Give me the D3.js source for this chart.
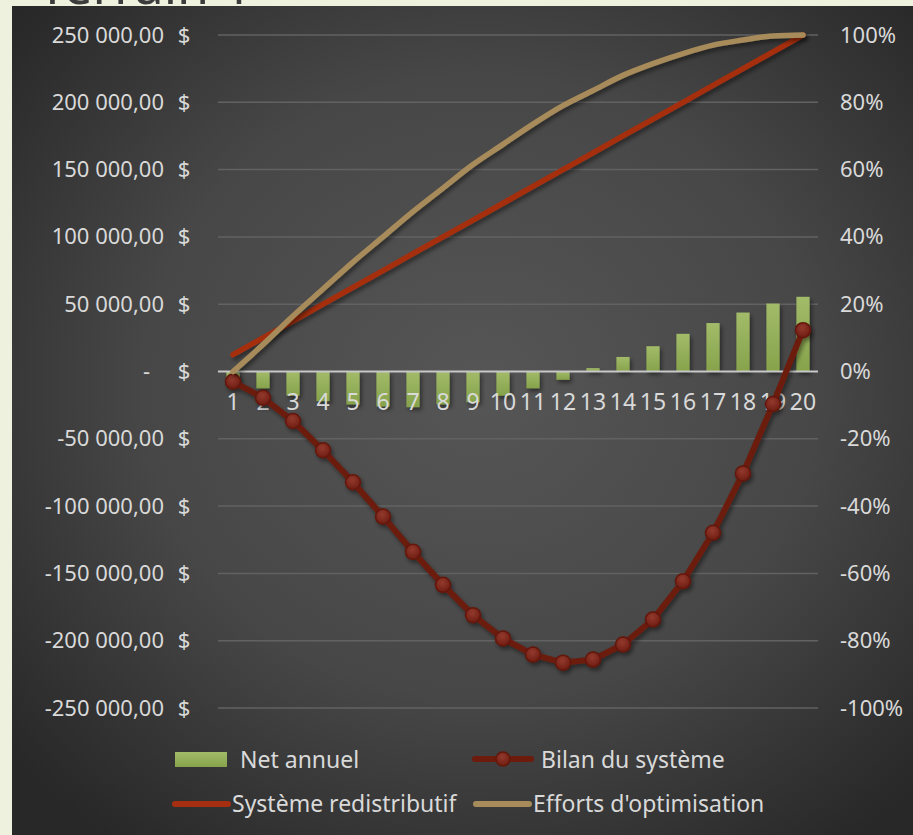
<!DOCTYPE html>
<html>
<head>
<meta charset="utf-8">
<script src="https://cdn.jsdelivr.net/npm/d3@7"></script>
<style>
  html, body { margin: 0; padding: 0; background: #edf1dd; }
  svg { display: block; }
  text { font-family: "Noto Sans", "DejaVu Sans", sans-serif; }
</style>
</head>
<body>
<svg id="chart" width="913" height="835"></svg>
<script>
// Years of the projection
const categories = ["1","2","3","4","5","6","7","8","9","10","11","12","13","14","15","16","17","18","19","20"];

// Net annuel ($) per year
const netAnnuel = [-7500, -12500, -18000, -22000, -24500, -26000, -26500, -24500, -22800, -18000,
                   -12500, -6200, 2500, 10800, 18800, 28000, 36000, 43800, 50500, 55500];

// Bilan du système ($), running balance
const bilanSysteme = [-7500, -19500, -36800, -58500, -82300, -107800, -134000, -158500, -181000, -198300,
                      -210300, -216300, -214000, -202800, -184200, -155800, -119800, -75700, -24200, 30700];

// Système redistributif (share, right axis)
const redistributif = [0.05, 0.10, 0.15, 0.20, 0.25, 0.30, 0.35, 0.40, 0.45, 0.50,
                       0.55, 0.60, 0.65, 0.70, 0.75, 0.80, 0.85, 0.90, 0.95, 1.00];

// Efforts d'optimisation (share, right axis)
const optimisation = [0.00, 0.08, 0.165, 0.245, 0.325, 0.40, 0.475, 0.545, 0.615, 0.675,
                      0.735, 0.79, 0.835, 0.88, 0.915, 0.945, 0.97, 0.985, 0.997, 1.00];

// Axis ticks
const leftTicks = [-250000, -200000, -150000, -100000, -50000, 0, 50000, 100000, 150000, 200000, 250000];
const rightTicks = [-1, -0.8, -0.6, -0.4, -0.2, 0, 0.2, 0.4, 0.6, 0.8, 1];

const seriesNames = ["Net annuel", "Bilan du système", "Système redistributif", "Efforts d'optimisation"];

const svg = d3.select("#chart");
const defs = svg.append("defs");

// Panel background gradient
const bg = defs.append("radialGradient").attr("id", "bgGrad")
  .attr("cx", "52%").attr("cy", "46%").attr("r", "68%");
bg.append("stop").attr("offset", "0%").attr("stop-color", "#565656");
bg.append("stop").attr("offset", "55%").attr("stop-color", "#474747");
bg.append("stop").attr("offset", "100%").attr("stop-color", "#282828");

const barGrad = defs.append("linearGradient").attr("id", "barGrad")
  .attr("x1", 0).attr("y1", 0).attr("x2", 0).attr("y2", 1);
barGrad.append("stop").attr("offset", "0%").attr("stop-color", "#a2bb69");
barGrad.append("stop").attr("offset", "100%").attr("stop-color", "#86a34b");

const markGrad = defs.append("radialGradient").attr("id", "markGrad")
  .attr("cx", "45%").attr("cy", "35%").attr("r", "65%");
markGrad.append("stop").attr("offset", "0%").attr("stop-color", "#93392d");
markGrad.append("stop").attr("offset", "100%").attr("stop-color", "#6e1d12");

const shadow = defs.append("filter").attr("id", "shadow")
  .attr("x", "-20%").attr("y", "-20%").attr("width", "140%").attr("height", "140%");
shadow.append("feDropShadow").attr("dx", 2).attr("dy", 3).attr("stdDeviation", 2)
  .attr("flood-color", "#000").attr("flood-opacity", 0.45);

// Heading, mostly hidden above the panel
svg.append("text").attr("x", 38).attr("y", 4)
  .attr("font-size", 52).attr("fill", "#3c3c3c").text("Terrain 1");

// Panel
svg.append("rect").attr("x", 12).attr("y", 6).attr("width", 901).attr("height", 829)
  .attr("fill", "url(#bgGrad)");

// Scales
const x = d3.scaleBand().domain(categories).range([218, 818]).padding(0);
const yL = d3.scaleLinear().domain([-250000, 250000]).range([708, 35]);
const yR = d3.scaleLinear().domain([-1, 1]).range([708, 35]);
const cx = d => x(d) + x.bandwidth() / 2;

const fr = d3.formatLocale({ decimal: ",", thousands: "\u00a0", grouping: [3], currency: ["", "$"], minus: "-" });
const fmtNum = fr.format(",.2f");
const fmtPct = fr.format(".0%");

// Gridlines
svg.append("g").selectAll("line").data(leftTicks.filter(t => t !== 0)).join("line")
  .attr("x1", 218).attr("x2", 818)
  .attr("y1", d => yL(d)).attr("y2", d => yL(d))
  .attr("stroke", "#626262").attr("stroke-width", 1.5);

// Left axis (accounting format: number then $)
const leftAxis = svg.append("g").attr("transform", "translate(164,0)")
  .call(d3.axisLeft(yL).tickValues(leftTicks).tickSize(0).tickPadding(0)
    .tickFormat(d => d === 0 ? "-" : fmtNum(d)));
leftAxis.select(".domain").remove();
leftAxis.selectAll(".tick text")
  .attr("fill", "#d9d9d9").attr("font-size", 22).attr("font-family", "Noto Sans, sans-serif")
  .attr("dx", d => d === 0 ? -14 : 0);
leftAxis.selectAll(".tick").append("text")
  .attr("x", 20).attr("dy", "0.32em").attr("text-anchor", "middle")
  .attr("fill", "#d9d9d9").attr("font-size", 22).attr("font-family", "Noto Sans, sans-serif")
  .text("$");

// Right axis
const rightAxis = svg.append("g").attr("transform", "translate(840,0)")
  .call(d3.axisRight(yR).tickValues(rightTicks).tickSize(0).tickPadding(0)
    .tickFormat(d => fmtPct(d)));
rightAxis.select(".domain").remove();
rightAxis.selectAll(".tick text")
  .attr("fill", "#d9d9d9").attr("font-size", 22).attr("font-family", "Noto Sans, sans-serif");

// Bars
const barW = x.bandwidth() * 0.44;
svg.append("g").attr("filter", "url(#shadow)").selectAll("rect")
  .data(categories.map((c, i) => ({ c, v: netAnnuel[i] }))).join("rect")
  .attr("x", d => cx(d.c) - barW / 2)
  .attr("width", barW)
  .attr("y", d => yL(Math.max(0, d.v)))
  .attr("height", d => Math.abs(yL(d.v) - yL(0)))
  .attr("fill", "url(#barGrad)");

// Zero line
svg.append("line").attr("x1", 218).attr("x2", 818)
  .attr("y1", yL(0)).attr("y2", yL(0))
  .attr("stroke", "#c8c8c8").attr("stroke-width", 2);

// Category axis labels
svg.append("g").selectAll("text").data(categories).join("text")
  .attr("x", d => cx(d)).attr("y", yL(0) + 38)
  .attr("text-anchor", "middle")
  .attr("fill", "#d9d9d9").attr("font-size", 23)
  .text(d => d);

// Bilan du système
const bilanPts = categories.map((c, i) => ({ c, v: bilanSysteme[i] }));
const gBilan = svg.append("g").attr("filter", "url(#shadow)");
gBilan.append("path").datum(bilanPts)
  .attr("d", d3.line().x(d => cx(d.c)).y(d => yL(d.v)))
  .attr("fill", "none").attr("stroke", "#6c1b0c").attr("stroke-width", 6)
  .attr("stroke-linejoin", "round");
gBilan.selectAll("circle").data(bilanPts).join("circle")
  .attr("cx", d => cx(d.c)).attr("cy", d => yL(d.v)).attr("r", 7.5)
  .attr("fill", "url(#markGrad)").attr("stroke", "#641709").attr("stroke-width", 1.5);

// Système redistributif
svg.append("path").datum(categories.map((c, i) => ({ c, v: redistributif[i] })))
  .attr("filter", "url(#shadow)")
  .attr("d", d3.line().x(d => cx(d.c)).y(d => yR(d.v)))
  .attr("fill", "none").attr("stroke", "#a52f10").attr("stroke-width", 5.5)
  .attr("stroke-linecap", "round");

// Efforts d'optimisation
svg.append("path").datum(categories.map((c, i) => ({ c, v: optimisation[i] })))
  .attr("filter", "url(#shadow)")
  .attr("d", d3.line().curve(d3.curveMonotoneX).x(d => cx(d.c)).y(d => yR(d.v)))
  .attr("fill", "none").attr("stroke", "#a88b5a").attr("stroke-width", 5.5)
  .attr("stroke-linecap", "round");

// Legend
const lg = svg.append("g").attr("font-size", 23).attr("fill", "#d9d9d9");
// Net annuel
lg.append("rect").attr("x", 175).attr("y", 752).attr("width", 52).attr("height", 15)
  .attr("fill", "url(#barGrad)");
lg.append("text").attr("x", 240).attr("y", 768).text(seriesNames[0]);
// Bilan du système
lg.append("line").attr("x1", 475).attr("x2", 531).attr("y1", 759).attr("y2", 759)
  .attr("stroke", "#6c1b0c").attr("stroke-width", 6).attr("stroke-linecap", "round");
lg.append("circle").attr("cx", 503).attr("cy", 759).attr("r", 7)
  .attr("fill", "url(#markGrad)").attr("stroke", "#641709").attr("stroke-width", 1.5);
lg.append("text").attr("x", 541).attr("y", 768).text(seriesNames[1]);
// Système redistributif
lg.append("line").attr("x1", 175).attr("x2", 228).attr("y1", 804).attr("y2", 804)
  .attr("stroke", "#a52f10").attr("stroke-width", 6).attr("stroke-linecap", "round");
lg.append("text").attr("x", 232).attr("y", 812).text(seriesNames[2]);
// Efforts d'optimisation
lg.append("line").attr("x1", 476).attr("x2", 529).attr("y1", 804).attr("y2", 804)
  .attr("stroke", "#a88b5a").attr("stroke-width", 6).attr("stroke-linecap", "round");
lg.append("text").attr("x", 533).attr("y", 812).text(seriesNames[3]);
</script>
</body>
</html>
